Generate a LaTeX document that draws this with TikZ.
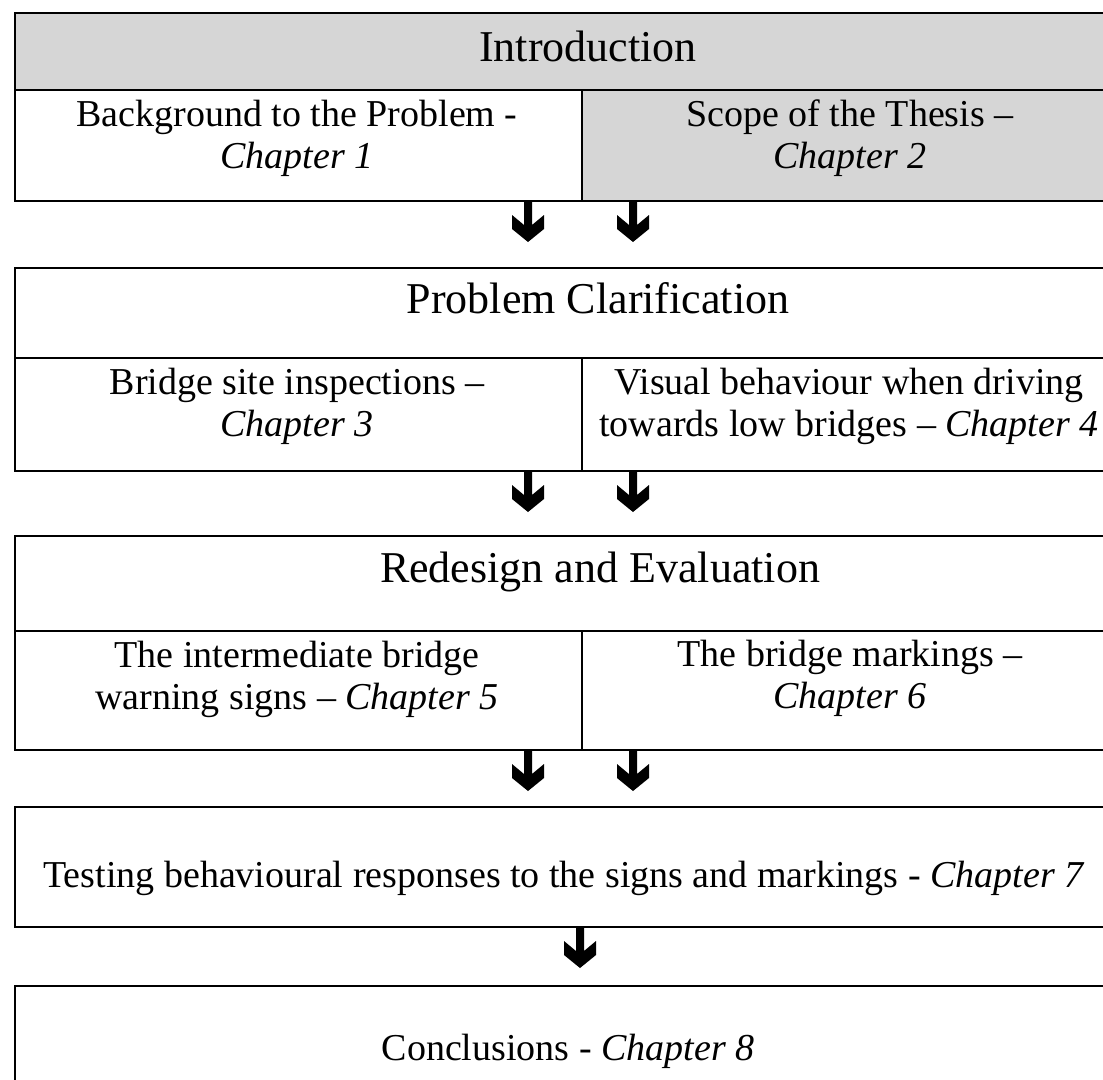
\documentclass[tikz,border=0pt]{standalone}
\usepackage{fontspec}
\setmainfont{Liberation Serif}
\definecolor{cellgray}{gray}{0.84}
\begin{document}
\begin{tikzpicture}[x=1pt,y=-1pt,
  cell/.style={draw=black, line width=2pt, rectangle, inner sep=0pt, anchor=north west},
  shaded/.style={fill=cellgray},
  body/.style={anchor=base, inner sep=0pt, font=\fontsize{38}{44}\selectfont},
  head/.style={anchor=base, inner sep=0pt, font=\fontsize{44}{50}\selectfont},
  flowarrow/.pic={\fill[black] (-4,-1) -- (-4,23) -- (-16,13) -- (-16,27) -- (0,40)
      -- (16,27) -- (16,13) -- (4,23) -- (4,-1) -- cycle;}
]
\useasboundingbox (0,0) rectangle (1103,1079);
\fill[white] (0,0) rectangle (1103,1079);
\clip (0,0) rectangle (1103,1079);

% columns used by the connecting arrows
\coordinate (colA) at (528,0);
\coordinate (colB) at (633,0);
\coordinate (colC) at (580,0);

% Introduction
\node[cell,shaded,minimum width=1111pt,minimum height=77pt] (introT) at (14,12) {};
\node[cell,minimum width=567pt,minimum height=111pt] (introL) at (14,89) {};
\node[cell,shaded,minimum width=544pt,minimum height=111pt] (introR) at (581,89) {};
\node[head] (introTitle) at (588,61) {Introduction};
\node[body] (introLa) at (297,126) {Background to the Problem -};
\node[body] (introLb) at (297,168) {\textit{Chapter 1}};
\node[body] (introRa) at (850,126) {Scope of the Thesis –};
\node[body] (introRb) at (850,168) {\textit{Chapter 2}};

% Problem clarification
\node[cell,minimum width=1111pt,minimum height=90pt] (probT) at (14,267) {};
\node[cell,minimum width=567pt,minimum height=113pt] (probL) at (14,357) {};
\node[cell,minimum width=544pt,minimum height=113pt] (probR) at (581,357) {};
\node[head] (probTitle) at (598,313) {Problem Clarification};
\node[body] (probLa) at (297,394) {Bridge site inspections –};
\node[body] (probLb) at (297,436) {\textit{Chapter 3}};
\node[body] (probRa) at (849,394) {Visual behaviour when driving};
\node[body] (probRb) at (849,436) {towards low bridges – \textit{Chapter 4}};

% Redesign and evaluation
\node[cell,minimum width=1111pt,minimum height=95pt] (redT) at (14,535) {};
\node[cell,minimum width=567pt,minimum height=119pt] (redL) at (14,630) {};
\node[cell,minimum width=544pt,minimum height=119pt] (redR) at (581,630) {};
\node[head] (redTitle) at (600,582) {Redesign and Evaluation};
\node[body] (redLa) at (297,667) {The intermediate bridge};
\node[body] (redLb) at (297,709) {warning signs – \textit{Chapter 5}};
\node[body] (redRa) at (850,666) {The bridge markings –};
\node[body] (redRb) at (850,708) {\textit{Chapter 6}};

% Testing
\node[cell,minimum width=1111pt,minimum height=120pt] (test) at (14,806) {};
\node[body] (testText) at (564,887) {Testing behavioural responses to the signs and markings - \textit{Chapter 7}};

% Conclusions
\node[cell,minimum width=1111pt,minimum height=200pt] (concl) at (14,985) {};
\node[body] (conclText) at (568,1060) {Conclusions - \textit{Chapter 8}};

% connecting arrows
\pic at (introL.south -| colA) {flowarrow};
\pic at (introL.south -| colB) {flowarrow};
\pic at (probL.south -| colA) {flowarrow};
\pic at (probL.south -| colB) {flowarrow};
\pic at (redL.south -| colA) {flowarrow};
\pic at (redL.south -| colB) {flowarrow};
\pic at (test.south -| colC) {flowarrow};
\end{tikzpicture}
\end{document}
